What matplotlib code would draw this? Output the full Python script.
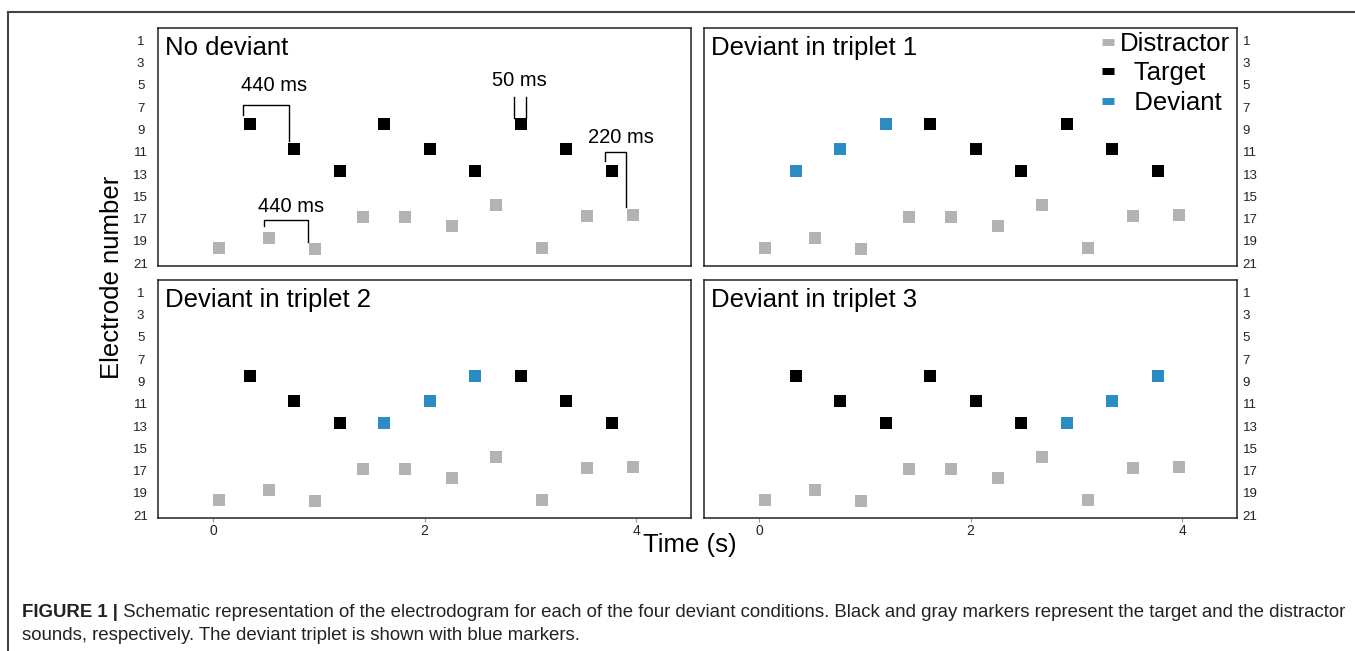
import matplotlib.pyplot as plt
from matplotlib.lines import Line2D

plt.rcParams['font.family'] = ['Liberation Sans', 'DejaVu Sans']

# timing (s) and electrode numbers
target_t = [0.35, 0.77, 1.20, 1.62, 2.05, 2.48, 2.91, 3.34, 3.77]
target_e = [8.55, 10.75, 12.7, 8.55, 10.75, 12.7, 8.55, 10.75, 12.7]
deviant_e = [12.7, 10.75, 8.55]
distractor_t = [0.06, 0.53, 0.96, 1.42, 1.82, 2.26, 2.68, 3.11, 3.54, 3.97]
distractor_e = [19.65, 18.7, 19.75, 16.85, 16.85, 17.7, 15.8, 19.6, 16.8, 16.7]

titles = ["No deviant", "Deviant in triplet 1", "Deviant in triplet 2", "Deviant in triplet 3"]
deviant_triplet = [None, 0, 1, 2]

yticks = list(range(1, 22, 2))
xticks = [0, 2, 4]

# bracket annotations in the first panel: (times, electrodes, label, label position)
brackets = [
    ([0.28, 0.28, 0.72, 0.72], [7.7, 6.8, 6.8, 10.0], "440 ms", (0.58, 5.1)),
    ([0.48, 0.48, 0.90, 0.90], [17.7, 17.1, 17.1, 19.1], "440 ms", (0.74, 15.9)),
    ([3.71, 3.71, 3.91, 3.91], [11.8, 11.0, 11.0, 16.0], "220 ms", (3.86, 9.75)),
]
gap_lines = [2.85, 2.96]
gap_e = [6.1, 8.0]

gray = '#b3b3b3'
blue = '#2b8cc4'

W, H = 1355, 651
fig = plt.figure(figsize=(W / 100, H / 100), dpi=100)

pos = [(158, 28), (704, 28), (158, 280), (704, 280)]
axes = []
for i, (px, py) in enumerate(pos):
    ax = fig.add_axes([px / W, 1 - (py + 238) / H, 533 / W, 238 / H])
    axes.append(ax)

    ax.scatter(distractor_t, distractor_e, marker='s', s=78, color=gray, linewidths=0, zorder=3)
    dev = deviant_triplet[i]
    tt = list(target_t)
    te = list(target_e)
    if dev is not None:
        idx = slice(dev * 3, dev * 3 + 3)
        ax.scatter(tt[idx], deviant_e, marker='s', s=78, color=blue, linewidths=0, zorder=3)
        del tt[idx]
        del te[idx]
    ax.scatter(tt, te, marker='s', s=78, color='black', linewidths=0, zorder=3)

    ax.set_xlim(-0.52, 4.52)
    ax.set_ylim(21.25, -0.1)
    ax.set_yticks(yticks)
    ax.set_xticks(xticks)
    ax.text(0.014, 0.965, titles[i], transform=ax.transAxes, ha='left', va='top', fontsize=18.5)

    for sp in ax.spines.values():
        sp.set_linewidth(1.1)
        sp.set_color('#222222')

    if i % 2 == 0:
        ax.tick_params(axis='y', length=0, pad=12.5, labelsize=9.5, labelcolor='#222222')
        for lab in ax.get_yticklabels():
            lab.set_horizontalalignment('center')
    else:
        ax.yaxis.tick_right()
        ax.tick_params(axis='y', length=0, pad=4, labelsize=9.5, labelcolor='#222222')
    if i < 2:
        ax.tick_params(axis='x', length=0, labelbottom=False)
    else:
        ax.tick_params(axis='x', length=3, width=0.8, color='#999999', pad=1,
                       labelsize=10, labelcolor='#222222')

ax0 = axes[0]
for bt, be, lab, (lx, ly) in brackets:
    ax0.plot(bt, be, color='black', lw=1.0, zorder=2)
    ax0.text(lx, ly, lab, ha='center', va='center', fontsize=14.5)
for g in gap_lines:
    ax0.plot([g, g], gap_e, color='black', lw=1.0, zorder=2)
ax0.text(2.90, 4.65, "50 ms", ha='center', va='center', fontsize=14.5)

handles = [Line2D([], [], color=c, lw=5, solid_capstyle='butt') for c in [gray, 'black', blue]]
axes[1].legend(handles, ["Distractor", "  Target", "  Deviant"], loc='upper right',
               bbox_to_anchor=(0.987, 0.985), frameon=False, fontsize=18.5,
               handlelength=0.45, handletextpad=0.25, labelspacing=0.22,
               borderaxespad=0.0, borderpad=0.0)

fig.text(112 / W, 1 - 277 / H, "Electrode number", rotation=90, ha='center', va='center', fontsize=18.5)
fig.text(690 / W, 1 - 545 / H, "Time (s)", ha='center', va='center', fontsize=18.5)

# caption
cap1 = fig.text(22 / W, 1 - 621 / H, "FIGURE 1 |", fontsize=13.4, fontweight='bold',
                color='#222222', ha='left', va='bottom')
rest = ("Schematic representation of the electrodogram for each of the four deviant conditions. "
        "Black and gray markers represent the target and the distractor")
ax0.annotate(" " + rest, xy=(1, 0), xycoords=cap1, ha='left', va='bottom', fontsize=13.4,
             color='#222222', annotation_clip=False)
fig.text(22 / W, 1 - 644 / H, "sounds, respectively. The deviant triplet is shown with blue markers.",
         fontsize=13.4, color='#222222', ha='left', va='bottom')

# outer frame
fig.add_artist(Line2D([8 / W, 1.0], [1 - 12 / H, 1 - 12 / H], transform=fig.transFigure,
                      color='#444444', lw=1.5))
fig.add_artist(Line2D([8 / W, 8 / W], [0, 1 - 12 / H], transform=fig.transFigure,
                      color='#444444', lw=1.5))

fig.savefig('out.png', dpi=100)
